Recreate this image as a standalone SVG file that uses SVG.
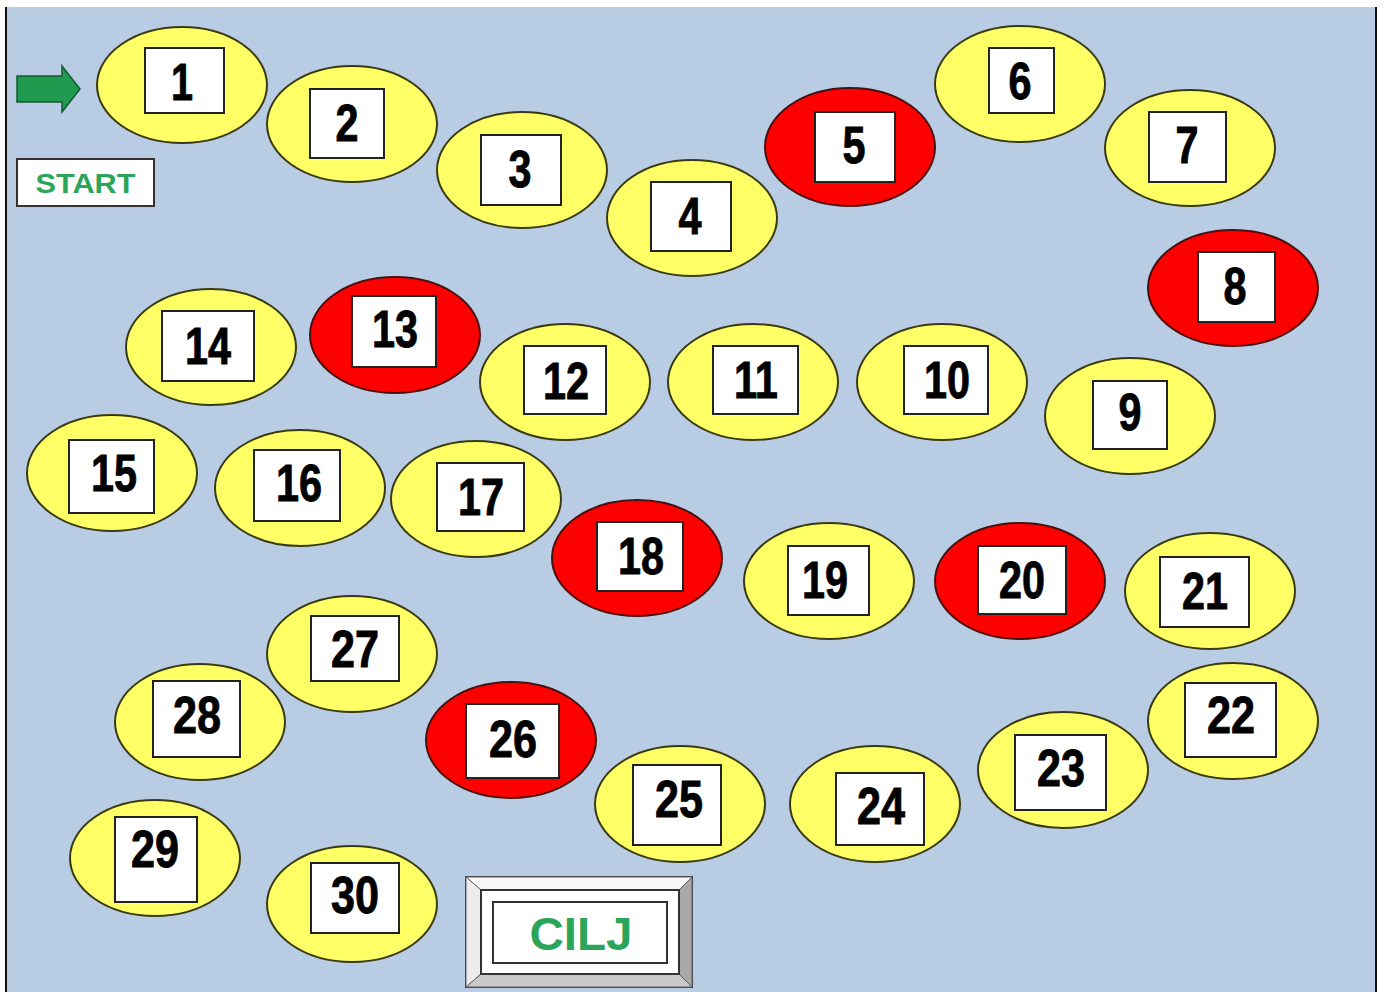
<svg xmlns="http://www.w3.org/2000/svg" width="1386" height="992" viewBox="0 0 1386 992">
<style>
.y{fill:#ffff66;stroke:#3a3a10;stroke-width:2}
.r{fill:#ff0000;stroke:#4a1010;stroke-width:2}
.b{fill:#ffffff;stroke:#222;stroke-width:2}
.n{font-family:"Liberation Sans Narrow","Liberation Sans",Arial,sans-serif;font-weight:bold;font-size:52px;fill:#000;stroke:#000;stroke-width:0.9;text-anchor:middle}
.g{font-family:"Liberation Sans",Arial,sans-serif;font-weight:bold;fill:#2aa55a;text-anchor:middle}
</style>
<rect x="0" y="0" width="1386" height="992" fill="#ffffff"/>
<rect x="6" y="7" width="1370" height="990" fill="#b8cce4"/>
<line x1="6" y1="7" x2="6" y2="992" stroke="#111" stroke-width="2"/>
<line x1="1376" y1="7" x2="1376" y2="992" stroke="#111" stroke-width="2"/>
<g id="arrow"><polygon points="17,76 62,76 62,66 80,89 62,112 62,102 17,102" fill="#1f9a4f" stroke="#145a30" stroke-width="1.5"/></g>
<g id="start"><rect x="17" y="159" width="137" height="47" fill="#fff" stroke="#333" stroke-width="2"/><text class="g" x="85.5" y="193" font-size="28" textLength="100" lengthAdjust="spacingAndGlyphs">START</text></g>
<g id="n1"><ellipse class="y" cx="182" cy="85" rx="85" ry="58"/><rect class="b" x="145" y="48" width="79" height="65"/><text class="n" x="182" y="100" textLength="22" lengthAdjust="spacingAndGlyphs">1</text></g>
<g id="n2"><ellipse class="y" cx="352" cy="124" rx="85" ry="58"/><rect class="b" x="310" y="89" width="74" height="69"/><text class="n" x="347" y="141" textLength="23" lengthAdjust="spacingAndGlyphs">2</text></g>
<g id="n3"><ellipse class="y" cx="522" cy="170" rx="85" ry="58"/><rect class="b" x="481" y="135" width="80" height="70"/><text class="n" x="520" y="187" textLength="23" lengthAdjust="spacingAndGlyphs">3</text></g>
<g id="n4"><ellipse class="y" cx="692" cy="218" rx="85" ry="58"/><rect class="b" x="651" y="182" width="80" height="69"/><text class="n" x="690" y="234" textLength="23" lengthAdjust="spacingAndGlyphs">4</text></g>
<g id="n5"><ellipse class="r" cx="850" cy="147" rx="85" ry="59"/><rect class="b" x="815" y="112" width="80" height="70"/><text class="n" x="854" y="163" textLength="23" lengthAdjust="spacingAndGlyphs">5</text></g>
<g id="n6"><ellipse class="y" cx="1020" cy="84" rx="85" ry="58"/><rect class="b" x="989" y="48" width="65" height="65"/><text class="n" x="1020" y="99" textLength="23" lengthAdjust="spacingAndGlyphs">6</text></g>
<g id="n7"><ellipse class="y" cx="1190" cy="148" rx="85" ry="58"/><rect class="b" x="1149" y="112" width="77" height="70"/><text class="n" x="1187" y="163" textLength="23" lengthAdjust="spacingAndGlyphs">7</text></g>
<g id="n8"><ellipse class="r" cx="1233" cy="288" rx="85" ry="58"/><rect class="b" x="1198" y="252" width="77" height="70"/><text class="n" x="1235" y="304" textLength="23" lengthAdjust="spacingAndGlyphs">8</text></g>
<g id="n9"><ellipse class="y" cx="1130" cy="416" rx="85" ry="58"/><rect class="b" x="1093" y="381" width="74" height="68"/><text class="n" x="1130" y="430" textLength="23" lengthAdjust="spacingAndGlyphs">9</text></g>
<g id="n10"><ellipse class="y" cx="942" cy="382" rx="85" ry="58"/><rect class="b" x="904" y="346" width="84" height="68"/><text class="n" x="947" y="398" textLength="46" lengthAdjust="spacingAndGlyphs">10</text></g>
<g id="n11"><ellipse class="y" cx="753" cy="382" rx="85" ry="58"/><rect class="b" x="713" y="346" width="85" height="68"/><text class="n" x="756" y="398" textLength="44" lengthAdjust="spacingAndGlyphs">11</text></g>
<g id="n12"><ellipse class="y" cx="565" cy="382" rx="85" ry="58"/><rect class="b" x="524" y="346" width="82" height="68"/><text class="n" x="566" y="399" textLength="46" lengthAdjust="spacingAndGlyphs">12</text></g>
<g id="n13"><ellipse class="r" cx="395" cy="335" rx="85" ry="58"/><rect class="b" x="352" y="296" width="84" height="71"/><text class="n" x="395" y="347" textLength="46" lengthAdjust="spacingAndGlyphs">13</text></g>
<g id="n14"><ellipse class="y" cx="211" cy="347" rx="85" ry="58"/><rect class="b" x="162" y="311" width="92" height="70"/><text class="n" x="208" y="364" textLength="46" lengthAdjust="spacingAndGlyphs">14</text></g>
<g id="n15"><ellipse class="y" cx="112" cy="473" rx="85" ry="58"/><rect class="b" x="69" y="440" width="85" height="73"/><text class="n" x="114" y="491" textLength="46" lengthAdjust="spacingAndGlyphs">15</text></g>
<g id="n16"><ellipse class="y" cx="300" cy="488" rx="85" ry="58"/><rect class="b" x="254" y="450" width="86" height="71"/><text class="n" x="299" y="501" textLength="46" lengthAdjust="spacingAndGlyphs">16</text></g>
<g id="n17"><ellipse class="y" cx="476" cy="499" rx="85" ry="58"/><rect class="b" x="437" y="463" width="87" height="68"/><text class="n" x="481" y="515" textLength="46" lengthAdjust="spacingAndGlyphs">17</text></g>
<g id="n18"><ellipse class="r" cx="637" cy="558" rx="85" ry="58"/><rect class="b" x="597" y="522" width="86" height="69"/><text class="n" x="641" y="574" textLength="46" lengthAdjust="spacingAndGlyphs">18</text></g>
<g id="n19"><ellipse class="y" cx="829" cy="581" rx="85" ry="58"/><rect class="b" x="788" y="546" width="81" height="69"/><text class="n" x="825" y="598" textLength="46" lengthAdjust="spacingAndGlyphs">19</text></g>
<g id="n20"><ellipse class="r" cx="1020" cy="581" rx="85" ry="58"/><rect class="b" x="978" y="546" width="88" height="68"/><text class="n" x="1022" y="598" textLength="46" lengthAdjust="spacingAndGlyphs">20</text></g>
<g id="n21"><ellipse class="y" cx="1210" cy="591" rx="85" ry="58"/><rect class="b" x="1160" y="557" width="89" height="70"/><text class="n" x="1205" y="609" textLength="46" lengthAdjust="spacingAndGlyphs">21</text></g>
<g id="n22"><ellipse class="y" cx="1233" cy="721" rx="85" ry="58"/><rect class="b" x="1185" y="683" width="91" height="74"/><text class="n" x="1231" y="733" textLength="48" lengthAdjust="spacingAndGlyphs">22</text></g>
<g id="n23"><ellipse class="y" cx="1063" cy="770" rx="85" ry="58"/><rect class="b" x="1015" y="735" width="91" height="75"/><text class="n" x="1061" y="786" textLength="48" lengthAdjust="spacingAndGlyphs">23</text></g>
<g id="n24"><ellipse class="y" cx="875" cy="804" rx="85" ry="58"/><rect class="b" x="836" y="773" width="88" height="72"/><text class="n" x="881" y="824" textLength="48" lengthAdjust="spacingAndGlyphs">24</text></g>
<g id="n25"><ellipse class="y" cx="680" cy="804" rx="85" ry="58"/><rect class="b" x="633" y="765" width="88" height="80"/><text class="n" x="679" y="817" textLength="48" lengthAdjust="spacingAndGlyphs">25</text></g>
<g id="n26"><ellipse class="r" cx="511" cy="740" rx="85" ry="58"/><rect class="b" x="466" y="704" width="93" height="74"/><text class="n" x="513" y="757" textLength="48" lengthAdjust="spacingAndGlyphs">26</text></g>
<g id="n27"><ellipse class="y" cx="352" cy="654" rx="85" ry="58"/><rect class="b" x="311" y="616" width="88" height="65"/><text class="n" x="355" y="667" textLength="48" lengthAdjust="spacingAndGlyphs">27</text></g>
<g id="n28"><ellipse class="y" cx="200" cy="722" rx="85" ry="58"/><rect class="b" x="153" y="681" width="87" height="76"/><text class="n" x="197" y="733" textLength="48" lengthAdjust="spacingAndGlyphs">28</text></g>
<g id="n29"><ellipse class="y" cx="155" cy="858" rx="85" ry="58"/><rect class="b" x="115" y="817" width="82" height="85"/><text class="n" x="155" y="867" textLength="48" lengthAdjust="spacingAndGlyphs">29</text></g>
<g id="n30"><ellipse class="y" cx="352" cy="904" rx="85" ry="58"/><rect class="b" x="311" y="863" width="88" height="70"/><text class="n" x="355" y="913" textLength="48" lengthAdjust="spacingAndGlyphs">30</text></g>
<g id="cilj">
<rect x="466" y="877" width="226" height="110" fill="#f4f4f4" stroke="#333" stroke-width="2"/>
<polygon points="466,877 692,877 679,890 481,890" fill="#f8f8f8" stroke="#666" stroke-width="1"/>
<polygon points="466,877 481,890 481,974 466,987" fill="#ececec" stroke="#666" stroke-width="1"/>
<polygon points="692,877 692,987 679,974 679,890" fill="#a8a8a8" stroke="#666" stroke-width="1"/>
<polygon points="466,987 692,987 679,974 481,974" fill="#c8c8c8" stroke="#666" stroke-width="1"/>
<rect x="481" y="890" width="198" height="84" fill="#ffffff" stroke="#333" stroke-width="2"/>
<rect x="493" y="902" width="174" height="61" fill="#ffffff" stroke="#333" stroke-width="2"/>
<text class="g" x="581" y="950" font-size="46" textLength="103" lengthAdjust="spacingAndGlyphs">CILJ</text>
</g>
</svg>
